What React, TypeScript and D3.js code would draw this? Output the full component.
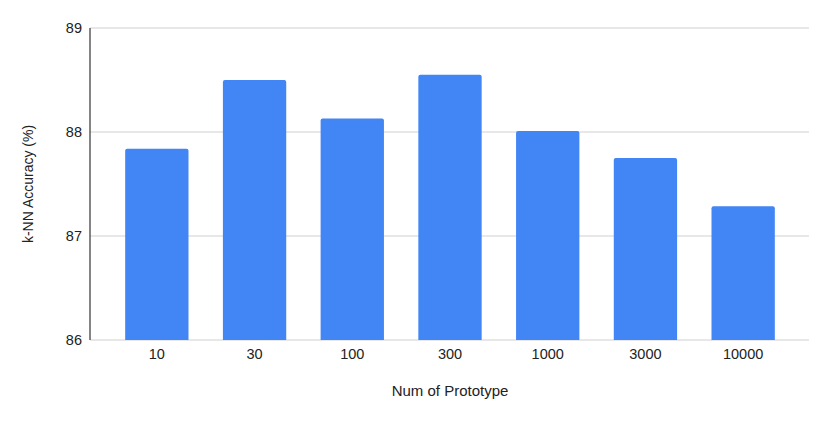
import React from "react";
import * as d3 from "d3";

const categories = ["10", "30", "100", "300", "1000", "3000", "10000"];
const accuracy = [87.84, 88.5, 88.13, 88.55, 88.01, 87.75, 87.285];
const yTicks = [86, 87, 88, 89];

const W = 830;
const H = 421;
const left = 90;
const right = 810;
const top = 28;
const bottom = 340;
const FONT = "Liberation Sans, Arial, Helvetica, sans-serif";

export default function App() {
  const x = d3
    .scaleBand<string>()
    .domain(categories)
    .range([left, right])
    .paddingInner(0.352)
    .paddingOuter(0.36);
  const y = d3.scaleLinear().domain([86, 89]).range([bottom, top]);
  const r = 2;

  const barPath = (x0: number, y0: number, w: number, h: number) =>
    `M${x0},${y0 + h}V${y0 + r}Q${x0},${y0} ${x0 + r},${y0}H${x0 + w - r}Q${x0 + w},${y0} ${x0 + w},${y0 + r}V${y0 + h}Z`;

  return (
    <svg
      width={W}
      height={H}
      style={{ position: "absolute", left: 0, top: 0, background: "#fff" }}
      fontFamily={FONT}
    >
      {yTicks.map((t) => (
        <g key={t}>
          <line x1={left} x2={809} y1={y(t)} y2={y(t)} stroke="#d0d0d0" strokeWidth={1} />
          <text x={82} y={y(t)} dy="0.35em" textAnchor="end" fontSize={14.5} fill="#222">
            {t}
          </text>
        </g>
      ))}
      {categories.map((c, i) => {
        const x0 = x(c)!;
        const y0 = y(accuracy[i]);
        return (
          <path key={c} d={barPath(x0, y0, x.bandwidth(), bottom - y0)} fill="#4285f4" />
        );
      })}
      <line x1={left} x2={left} y1={top} y2={bottom} stroke="#333" strokeWidth={1.2} />
      {categories.map((c) => (
        <text
          key={c}
          x={x(c)! + x.bandwidth() / 2}
          y={359}
          textAnchor="middle"
          fontSize={14.5}
          fill="#222"
        >
          {c}
        </text>
      ))}
      <text x={(left + right) / 2} y={396} textAnchor="middle" fontSize={15} fill="#222">
        Num of Prototype
      </text>
      <text
        transform={`translate(33,${(top + bottom) / 2}) rotate(-90)`}
        textAnchor="middle"
        fontSize={14}
        fill="#222"
      >
        k-NN Accuracy (%)
      </text>
    </svg>
  );
}
